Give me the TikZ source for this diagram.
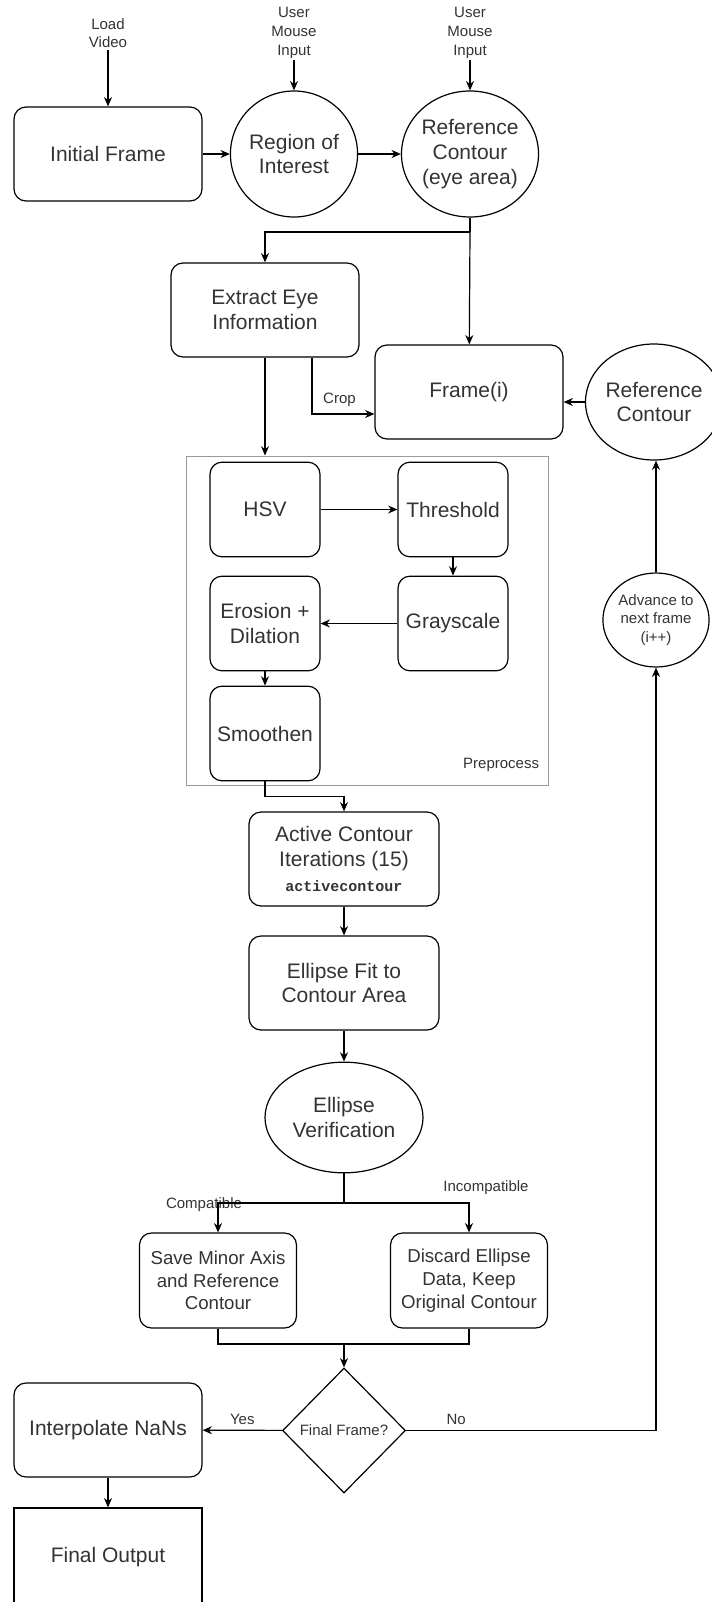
\documentclass[tikz,border=0pt]{standalone}
\usepackage{fontspec}
\setmainfont{Liberation Sans}
\newfontfamily\codefont{Liberation Mono}
\usetikzlibrary{arrows.meta,shapes.geometric}
\definecolor{txt}{HTML}{333333}
\definecolor{frameline}{HTML}{9A9A9A}
\newcommand\bigfs{\fontsize{15.75}{18.5}\selectfont}
\newcommand\midfs{\fontsize{14}{17}\selectfont}
\newcommand\smallfs{\fontsize{11.25}{14}\selectfont}
\tikzset{
  proc/.style={draw,rounded corners=9pt,minimum width=141pt,minimum height=70.5pt,align=center,text=txt,font=\bigfs},
  subproc/.style={proc,minimum width=82.5pt,minimum height=71pt},
  choice/.style={proc,minimum width=117.75pt,minimum height=71.25pt,font=\midfs},
  oval/.style={draw,ellipse,inner sep=0pt,align=center,text=txt,font=\bigfs},
  lbl/.style={align=center,text=txt,font=\smallfs,inner sep=1pt},
}
\begin{document}
\begin{tikzpicture}[x=0.75pt,y=-0.75pt,line width=0.9pt,>={Stealth[length=7pt,width=6pt]}]
\clip (0,0) rectangle (712,1602);
\node[lbl] (load) at (108,33) {Load\\Video};
\node[proc] (init) at (108,154) {Initial Frame};
\node[lbl] (mouseA) at (294,33) {User\\Mouse\\Input};
\node[oval,minimum width=91.5pt,minimum height=94.5pt] (roi) at (294,154) {Region of\\Interest};
\node[lbl] (mouseB) at (470,33) {User\\Mouse\\Input};
\node[oval,minimum width=91.5pt,minimum height=94.5pt] (refA) at (470,154) {Reference\\Contour\\(eye area)};
\node[proc] (extract) at (265,310) {Extract Eye\\Information};
\node[proc] (frame) at (469,392) {Frame(i)};
\node[oval,minimum width=87pt,minimum height=87pt] (refB) at (654,402) {Reference\\Contour};
\node[draw=frameline,line width=0.75pt,minimum width=271.5pt,minimum height=246.75pt,inner sep=0pt] (prep) at (367,620.5) {};
\node[lbl,anchor=east] (preplbl) at (541,765) {Preprocess};
\node[subproc] (hsv) at (265,509.5) {HSV};
\node[subproc] (thresh) at (453,509.5) {Threshold};
\node[subproc] (gray) at (453,623.5) {Grayscale};
\node[subproc] (erode) at (265,623.5) {Erosion +\\Dilation};
\node[subproc] (smooth) at (265,733.5) {Smoothen};
\node[proc,minimum width=142.5pt] (active) at (344,859) {Active Contour\\Iterations (15)\\{\codefont\bfseries\smallfs activecontour}};
\node[proc,minimum width=142.5pt] (fit) at (344,983) {Ellipse Fit to\\Contour Area};
\node[oval,minimum width=118.5pt,minimum height=83pt] (verify) at (344,1117.5) {Ellipse\\Verification};
\node[choice] (save) at (218,1280.5) {Save Minor Axis\\and Reference\\Contour};
\node[choice] (discard) at (469,1280.5) {Discard Ellipse\\Data, Keep\\Original Contour};
\node[draw,diamond,inner sep=0pt,minimum width=92.25pt,minimum height=93.75pt,text=txt,font=\smallfs] (last) at (344,1430.5) {Final Frame?};
\node[proc] (interp) at (108,1430) {Interpolate NaNs};
\node[draw,minimum width=141pt,minimum height=73.5pt,text=txt,font=\bigfs] (output) at (108,1557) {Final Output};
\node[oval,minimum width=70.5pt,minimum height=70.5pt,font=\smallfs] (advance) at (656,620) {Advance to\\next frame\\(i++)};
\node[lbl] (compat) at (204,1205) {Compatible};
\node[lbl] (incompat) at (486,1188) {Incompatible};
\coordinate (splitA) at (470,232);
\coordinate (splitB) at (344,1203);
\coordinate (joinC) at (344,1344);
\draw[->] (load) -- (init);
\draw[->] (mouseA) -- (roi);
\draw[->] (mouseB) -- (refA);
\draw[->] (init) -- (roi);
\draw[->] (roi) -- (refA);
\draw (refA) -- (splitA);
\draw[->] (splitA) -| (extract);
\draw[->] (splitA) -- (frame);
\draw[->] ([xshift=35.25pt]extract.south) |- node[lbl,pos=0.72,above=4pt] (crop) {Crop} ([yshift=-16.5pt]frame.west);
\draw[->] (refB.west) -- (refB.west -| frame.east);
\draw[->] (extract) -- (extract |- prep.north);
\draw[->] (hsv) -- (thresh);
\draw[->] (thresh) -- (gray);
\draw[->] (gray) -- (erode);
\draw[->] (erode) -- (smooth);
\draw[->] (smooth.south) -- ++(0,15) -| (active.north);
\draw[->] (active) -- (fit);
\draw[->] (fit) -- (verify);
\draw (verify) -- (splitB);
\draw[->] (splitB) -| (save);
\draw[->] (splitB) -| (discard);
\draw (save) |- (joinC);
\draw (discard) |- (joinC);
\draw[->] (joinC) -- (last);
\draw[->] (last) -- node[lbl,above=3pt] (yes) {Yes} (interp);
\draw[->] (last.east) -| node[lbl,pos=0.1,above=3pt] (no) {No} (advance.south);
\draw[->] (advance.north) -- (advance.north |- refB.south);
\draw[->] (interp) -- (output);
\end{tikzpicture}
\end{document}
